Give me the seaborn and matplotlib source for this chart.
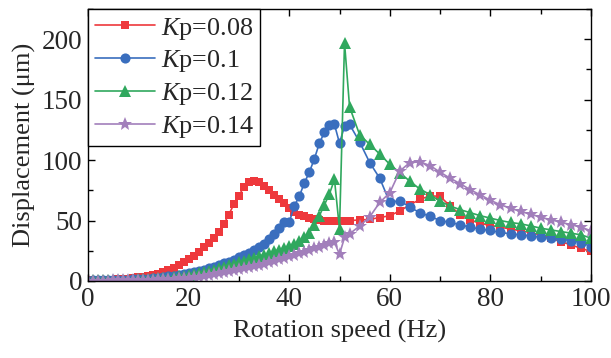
import numpy as np
import pandas as pd
import matplotlib
matplotlib.use("Agg")
import matplotlib.pyplot as plt
import seaborn as sns
from matplotlib.ticker import MultipleLocator

# ---------------- data ----------------
speed = list(range(0, 53)) + list(range(54, 101, 2))

kp008 = [0.5, 0.6, 0.7, 0.8, 1.0, 1.2, 1.4, 1.7, 2.0, 2.4, 2.9, 3.5, 4.2, 5.0, 6.2, 7.7, 9.0, 10.8,
         13.0, 15.5, 18.0, 20.5, 24.0, 28.0, 31.5, 35.5, 40.5, 47.0, 55.0, 63.5, 70.5, 78.0, 81.5,
         83.0, 81.5, 78.5, 75.0, 71.5, 68.0, 64.5, 60.5, 57.0, 55.0, 53.5, 52.5, 51.5, 50.5, 50.0,
         49.5, 49.5, 49.5, 49.5, 50.0,
         50.5, 51.0, 52.5, 54.0, 58.0, 63.0, 67.5, 70.5, 70.0, 62.0, 55.0, 50.5, 47.5, 46.0, 44.5,
         43.0, 41.5, 40.0, 38.0, 35.5, 32.5, 30.0, 27.0, 24.5]

kp010 = [0.4, 0.45, 0.5, 0.6, 0.7, 0.8, 0.9, 1.0, 1.2, 1.35, 1.5, 1.75, 2.0, 2.4, 2.8, 3.3, 3.8,
         4.4, 5.0, 5.7, 6.5, 7.4, 8.3, 9.4, 10.5, 11.7, 13.0, 14.5, 16.0, 17.7, 19.5, 21.2, 23.0,
         25.5, 28.0, 31.0, 34.5, 38.5, 44.0, 49.0, 48.5, 62.0, 70.0, 81.0, 90.0, 101.0, 114.0,
         123.0, 129.0, 129.5, 114.0, 128.0, 129.5,
         115, 98, 85, 65, 66.5, 61, 56.5, 53.5, 50, 48.5, 46.5, 44.5, 43, 41.8, 40.2, 39, 38.2,
         37.3, 36.2, 35.4, 34.6, 33.5, 31.8, 28.5]

kp012 = [0.4, 0.45, 0.5, 0.55, 0.6, 0.7, 0.8, 0.9, 1.0, 1.1, 1.25, 1.4, 1.6, 1.8, 2.1, 2.4, 2.8,
         3.3, 3.8, 4.4, 5.0, 5.7, 6.5, 7.4, 8.3, 9.4, 10.5, 11.7, 13.0, 14.2, 15.5, 16.7, 18.0,
         19.2, 20.5, 21.7, 23.0, 24.5, 26.0, 27.5, 29.0, 31.0, 33.0, 36.0, 40.0, 46.0, 54.0, 63.0,
         72.0, 84.0, 43.0, 197.0, 144.0,
         121, 113, 105, 96.5, 89.5, 82.5, 76, 71.5, 66, 62, 59, 56.5, 54, 52, 50, 48.4, 47.3,
         45.6, 43.7, 42.3, 40.9, 39.6, 38.2, 35.5]

kp014 = [0.2, 0.25, 0.3, 0.35, 0.4, 0.45, 0.5, 0.6, 0.65, 0.75, 0.85, 0.95, 1.1, 1.2, 1.35, 1.5,
         1.7, 1.9, 2.1, 2.35, 2.6, 3.0, 3.5, 4.1, 4.8, 5.5, 6.3, 7.1, 8.0, 8.8, 9.7, 10.6, 11.5,
         12.4, 13.3, 14.4, 15.5, 16.7, 18.0, 19.2, 20.5, 21.7, 23.0, 24.2, 25.5, 27.0, 28.5, 30.0,
         31.3, 32.0, 22.0, 36.0, 39.0,
         45.5, 53, 65, 73, 91, 98, 98.5, 95.5, 90, 85, 80.5, 75.5, 71.2, 66.8, 63, 60.3, 57.5,
         55.3, 52.8, 50.6, 48.7, 46.5, 44.6, 41.5]

labels = ["$K$p=0.08", "$K$p=0.1", "$K$p=0.12", "$K$p=0.14"]
series = [kp008, kp010, kp012, kp014]
colors = ["#EE383C", "#3A6EBE", "#30A85E", "#A27FBB"]
markers = ["s", "o", "^", "*"]
msizes = [6.3, 7.3, 8, 10]

# ---------------- style ----------------
sns.set_theme(style="ticks")
plt.rcParams["font.family"] = ["Liberation Serif", "DejaVu Serif"]
plt.rcParams["mathtext.fontset"] = "custom"
plt.rcParams["mathtext.it"] = "Liberation Serif:italic"
plt.rcParams["mathtext.rm"] = "Liberation Serif"

fig = plt.figure(figsize=(6.11, 3.58), dpi=100)
ax = fig.add_axes([88 / 611, 1 - 281 / 358, (591 - 88) / 611, (281 - 9) / 358])

for lab, ys, c, m, ms in zip(labels, series, colors, markers, msizes):
    df = pd.DataFrame({"speed": speed, "disp": ys})
    sns.lineplot(data=df, x="speed", y="disp", ax=ax, color=c, marker=m,
                 markersize=ms, markeredgewidth=0, linewidth=1.2, label=lab)

ax.set_xlim(0, 100)
ax.set_ylim(0, 225)
ax.xaxis.set_major_locator(MultipleLocator(20))
ax.xaxis.set_minor_locator(MultipleLocator(10))
ax.yaxis.set_major_locator(MultipleLocator(50))
ax.yaxis.set_minor_locator(MultipleLocator(25))
ax.tick_params(which="both", direction="in", top=True, right=True, width=1, color="black",
               labelsize=19.5, pad=4)
ax.tick_params(which="major", length=5)
ax.tick_params(which="minor", length=3.5)
for s in ax.spines.values():
    s.set_linewidth(1.0)
    s.set_color("black")

ax.set_xlabel("Rotation speed (Hz)", fontsize=19, labelpad=6)
ax.set_ylabel("Displacement (μm)", fontsize=19, labelpad=4)

leg = ax.legend(loc="upper left", borderaxespad=0, fontsize=18.8, frameon=True, fancybox=False,
                handlelength=2.3, handletextpad=0.25, labelspacing=0.26, borderpad=0.25)
leg.get_frame().set_edgecolor("black")
leg.get_frame().set_linewidth(1.0)
leg.get_frame().set_alpha(1)

fig.savefig("out.png", dpi=100)
